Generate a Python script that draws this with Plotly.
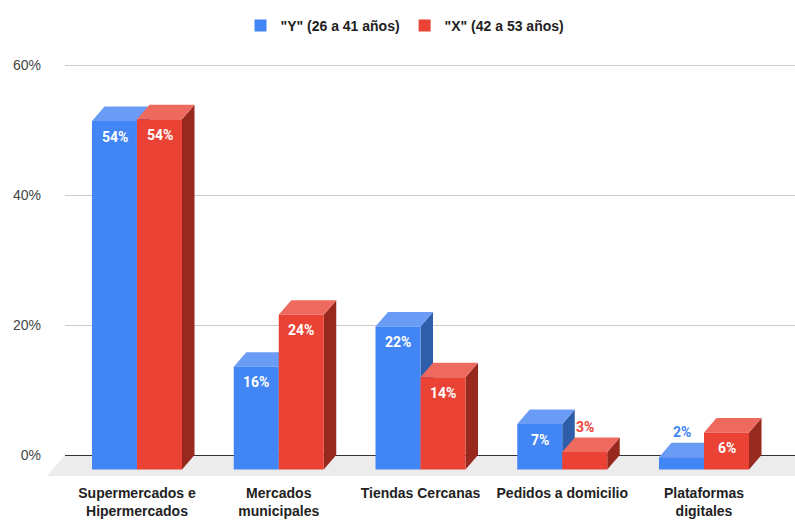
import plotly.graph_objects as go

# ---------------- data ----------------
categories = [
    "Supermercados e<br>Hipermercados",
    "Mercados<br>municipales",
    "Tiendas Cercanas",
    "Pedidos a domicilio",
    "Plataformas<br>digitales",
]
series_names = ['"Y" (26 a 41 años)', '"X" (42 a 53 años)']
values_y = [53.6, 15.8, 22.0, 7.0, 1.9]
values_x = [53.9, 23.8, 14.2, 2.7, 5.7]
y_tick_values = [0, 20, 40, 60]
y_tick_labels = ["0%", "20%", "40%", "60%"]

# ---------------- styles / layout constants ----------------
W, H = 795, 520
PLOT_L, PLOT_R, PLOT_T, PLOT_B = 65, 795, 52, 476
ZERO_PX = 455
PX_PER_PCT = 6.5
FIRST_CENTER_PX = 137
GROUP_STEP_PX = 141.75
BAR_PX = 45
DEPTH_X_PX = 12.5
DEPTH_Y_PX = 14.5
FLOOR_FRONT_LEFT_PX = 47

front_colors = ["#4285F4", "#EA4335"]
top_colors = ["#6A9CF6", "#EE6A5F"]
side_colors = ["#2E5DAA", "#97291F"]
FONT = "Liberation Sans, Arial, sans-serif"
LABEL_FONT = "Roboto, Liberation Sans, Arial, sans-serif"

y_range = [-(PLOT_B - ZERO_PX) / PX_PER_PCT, (ZERO_PX - PLOT_T) / PX_PER_PCT]
x_range = [(PLOT_L - FIRST_CENTER_PX) / GROUP_STEP_PX, (PLOT_R - FIRST_CENTER_PX) / GROUP_STEP_PX]
bw = BAR_PX / GROUP_STEP_PX
dx = DEPTH_X_PX / GROUP_STEP_PX
dy = DEPTH_Y_PX / PX_PER_PCT


def px_to_paper_x(px):
    return (px - PLOT_L) / (PLOT_R - PLOT_L)


def px_to_paper_y(py):
    return (PLOT_B - py) / (PLOT_B - PLOT_T)


fig = go.Figure()
shapes = []
annotations = []

# floor
floor_pts = [
    (PLOT_L, ZERO_PX),
    (PLOT_R + 40, ZERO_PX),
    (PLOT_R + 40 - (PLOT_L - FLOOR_FRONT_LEFT_PX), PLOT_B),
    (FLOOR_FRONT_LEFT_PX, PLOT_B),
]
path = "M" + " L".join(f"{px_to_paper_x(a):.5f},{px_to_paper_y(b):.5f}" for a, b in floor_pts) + " Z"
shapes.append(dict(type="path", xref="paper", yref="paper", path=path,
                   fillcolor="#ECECEC", line=dict(width=0), layer="below"))

for s, vals in enumerate([values_y, values_x]):
    xs = [i + (s - 0.5) * bw for i in range(len(categories))]
    fig.add_trace(go.Bar(
        x=xs, y=vals, base=[-dy] * len(vals), width=bw,
        name=series_names[s],
        marker=dict(color=front_colors[s], line=dict(width=0)),
        hoverinfo="skip",
    ))
    for xc, v in zip(xs, vals):
        xl, xr = xc - bw / 2, xc + bw / 2
        ft = v - dy
        top = f"M{xl},{ft} L{xr},{ft} L{xr + dx},{v} L{xl + dx},{v} Z"
        side = f"M{xr},{-dy} L{xr},{ft} L{xr + dx},{v} L{xr + dx},0 Z"
        shapes.append(dict(type="path", xref="x", yref="y", path=side,
                           fillcolor=side_colors[s], line=dict(width=0), layer="between"))
        shapes.append(dict(type="path", xref="x", yref="y", path=top,
                           fillcolor=top_colors[s], line=dict(width=0), layer="between"))
        label = f"{round(v)}%"
        if v >= 5:
            annotations.append(dict(x=xc, y=ft, xref="x", yref="y", text=label, showarrow=False,
                                    xanchor="center", yanchor="middle", yshift=-15.5,
                                    font=dict(family=LABEL_FONT, size=14, color="white", weight="bold")))
        else:
            annotations.append(dict(x=xc, y=v, xref="x", yref="y", text=label, showarrow=False,
                                    xanchor="center", yanchor="middle", yshift=10.5,
                                    font=dict(family=LABEL_FONT, size=14, color=front_colors[s], weight="bold")))

fig.update_layout(
    width=W, height=H, autosize=False,
    margin=dict(l=PLOT_L, r=W - PLOT_R, t=PLOT_T, b=H - PLOT_B, pad=0),
    paper_bgcolor="white", plot_bgcolor="white",
    barmode="overlay",
    font=dict(family=FONT, size=14, color="#222222"),
    shapes=shapes, annotations=annotations,
    showlegend=True,
    legend=dict(orientation="h", x=px_to_paper_x(405), xanchor="center",
                y=px_to_paper_y(26), yanchor="middle",
                font=dict(family=FONT, size=14, color="#222222", weight="bold"),
                bgcolor="rgba(0,0,0,0)", itemclick=False, itemdoubleclick=False),
    xaxis=dict(range=x_range, tickmode="array", tickvals=list(range(len(categories))),
               ticktext=categories, showgrid=False, zeroline=False, showline=False,
               ticks="", automargin=False, fixedrange=True, ticklabelstandoff=7,
               tickfont=dict(family=FONT, size=14, color="#222222", weight="bold")),
    yaxis=dict(range=y_range, tickmode="array", tickvals=y_tick_values, ticktext=y_tick_labels,
               showgrid=True, gridcolor="#CCCCCC", gridwidth=1,
               zeroline=True, zerolinecolor="#333333", zerolinewidth=1,
               showline=False, ticks="", automargin=False, fixedrange=True,
               ticklabelstandoff=23,
               tickfont=dict(family=FONT, size=14, color="#444444")),
)

fig.write_html("out.html", config={"displayModeBar": False})
